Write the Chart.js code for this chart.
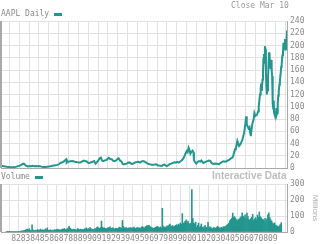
<!DOCTYPE html>
<html>
<head>
<meta charset="utf-8">
<script src="https://cdn.jsdelivr.net/npm/chart.js@4.4.1/dist/chart.umd.min.js"></script>
<style>
  body { margin: 0; background: #ffffff; width: 320px; height: 244px; overflow: hidden; position: relative; }
  canvas { position: absolute; left: 0; }
  #priceChart { top: 0; }
  #volumeChart { top: 176px; }
  .txt { position: absolute; white-space: nowrap; color: #8a8a8a; font-family: "DejaVu Sans Mono", monospace; font-size: 8px; line-height: 10px; }
  .swatch { position: absolute; height: 3px; width: 8px; background: #22968f; }
</style>
</head>
<body>
<canvas id="priceChart" width="320" height="176"></canvas>
<canvas id="volumeChart" width="320" height="68"></canvas>

<div class="txt" style="left:1px; top:9px;">AAPL Daily</div>
<div class="swatch" style="left:54px; top:13px;"></div>
<div class="txt" style="left:231px; top:1px; color:#999;">Close Mar 10</div>
<div class="txt" style="left:1px; top:172px;">Volume</div>
<div class="swatch" style="left:35px; top:176px;"></div>
<div class="txt" style="left:212px; top:171px; font-family:'Liberation Sans', Arial, sans-serif; font-weight:bold; font-size:10px; color:#bdbdbd;">Interactive Data</div>

<script>
// 색상 / 축 범위
const TEAL = '#22968f';
const GRID = '#e2e2e2';
const AXIS = '#a8a8a8';
const X_MIN = 1981.15;
const X_MAX = 2010.19;

// 연도 눈금 (x축)
const yearTicks = [1982, 1983, 1984, 1985, 1986, 1987, 1988, 1989, 1990, 1991, 1992, 1993, 1994, 1995,
    1996, 1997, 1998, 1999, 2000, 2001, 2002, 2003, 2004, 2005, 2006, 2007, 2008, 2009, 2010];

// 종가 (날짜 = 소수 연도)
const priceDates = [
    1981.15, 1981.3, 1981.45, 1981.6, 1981.75, 1981.9, 1982.05, 1982.2, 1982.35, 1982.5, 1982.65, 1982.8, 1982.95,
    1983.1, 1983.25, 1983.4, 1983.5, 1983.6, 1983.75, 1983.9, 1984.05, 1984.2, 1984.35, 1984.5, 1984.65, 1984.8, 1984.95,
    1985.1, 1985.25, 1985.4, 1985.55, 1985.7, 1985.85, 1986.0, 1986.15, 1986.3, 1986.45, 1986.6, 1986.75, 1986.9,
    1987.05, 1987.2, 1987.35, 1987.5, 1987.6, 1987.72, 1987.78, 1987.82, 1987.9, 1988.05, 1988.2, 1988.35, 1988.5,
    1988.65, 1988.8, 1988.95, 1989.1, 1989.25, 1989.4, 1989.55, 1989.7, 1989.85, 1990.0, 1990.15, 1990.3, 1990.45,
    1990.6, 1990.75, 1990.9, 1991.05, 1991.2, 1991.3, 1991.4, 1991.55, 1991.7, 1991.85, 1992.0, 1992.1, 1992.25,
    1992.4, 1992.55, 1992.7, 1992.85, 1993.0, 1993.1, 1993.25, 1993.4, 1993.5, 1993.6, 1993.75, 1993.9, 1994.05,
    1994.2, 1994.35, 1994.5, 1994.65, 1994.8, 1994.95, 1995.1, 1995.25, 1995.4, 1995.55, 1995.7, 1995.85, 1996.0,
    1996.15, 1996.3, 1996.45, 1996.6, 1996.75, 1996.9, 1997.05, 1997.2, 1997.35, 1997.5, 1997.6, 1997.75, 1997.9,
    1998.0, 1998.15, 1998.3, 1998.45, 1998.6, 1998.75, 1998.9, 1999.05, 1999.2, 1999.35, 1999.5, 1999.65, 1999.8,
    1999.9, 2000.0, 2000.1, 2000.2, 2000.28, 2000.38, 2000.48, 2000.6, 2000.7, 2000.74, 2000.85, 2000.97, 2001.1,
    2001.25, 2001.4, 2001.5, 2001.7, 2001.85, 2001.97, 2002.1, 2002.25, 2002.4, 2002.5, 2002.6, 2002.75, 2002.9,
    2003.05, 2003.2, 2003.3, 2003.45, 2003.6, 2003.75, 2003.9, 2004.05, 2004.2, 2004.35, 2004.5, 2004.6, 2004.72,
    2004.82, 2004.92, 2005.0, 2005.08, 2005.15, 2005.25, 2005.32, 2005.45, 2005.55, 2005.65, 2005.75, 2005.85,
    2005.95, 2006.04, 2006.1, 2006.18, 2006.28, 2006.38, 2006.45, 2006.52, 2006.6, 2006.7, 2006.8, 2006.88, 2006.97,
    2007.05, 2007.15, 2007.25, 2007.32, 2007.4, 2007.45, 2007.52, 2007.58, 2007.63, 2007.7, 2007.75, 2007.8, 2007.85,
    2007.9, 2007.95, 2008.0, 2008.05, 2008.1, 2008.15, 2008.2, 2008.26, 2008.32, 2008.37, 2008.42, 2008.48, 2008.53,
    2008.58, 2008.63, 2008.68, 2008.72, 2008.76, 2008.8, 2008.84, 2008.88, 2008.92, 2008.96, 2009.02, 2009.06,
    2009.12, 2009.17, 2009.2, 2009.25, 2009.3, 2009.35, 2009.42, 2009.47, 2009.53, 2009.6, 2009.65, 2009.72,
    2009.78, 2009.83, 2009.88, 2009.93, 2009.98, 2010.03, 2010.07, 2010.11, 2010.15, 2010.19
];
const priceValues = [
    3.9, 3.6, 3.3, 2.6, 2.2, 2.0, 1.7, 1.5, 1.4, 1.6, 2.2, 3.0, 3.6,
    4.6, 5.8, 7.4, 7.0, 5.2, 3.6, 2.8, 3.4, 3.1, 3.8, 3.3, 3.6, 3.3, 3.6,
    3.2, 2.6, 2.1, 2.0, 1.9, 2.5, 2.8, 3.2, 3.6, 4.4, 4.3, 5.0, 5.4,
    6.8, 8.5, 9.6, 10.5, 12.0, 13.8, 14.6, 9.0, 10.2, 10.8, 11.4, 11.8, 11.2,
    10.4, 10.0, 9.5, 9.2, 9.8, 11.2, 12.4, 11.6, 11.0, 8.8, 8.4, 9.8, 10.6,
    11.6, 7.4, 10.0, 13.2, 16.6, 17.2, 12.6, 11.6, 12.8, 13.2, 15.4, 16.8, 15.0,
    14.6, 12.0, 11.4, 13.0, 15.2, 16.0, 12.2, 10.8, 7.0, 6.0, 6.8, 7.4, 8.8,
    9.4, 7.6, 7.0, 8.4, 9.6, 10.0, 10.6, 9.2, 10.8, 11.8, 11.0, 9.6, 8.0,
    6.8, 6.2, 5.6, 5.8, 6.0, 6.4, 4.8, 4.2, 4.0, 3.6, 5.4, 5.8, 4.2,
    3.4, 5.0, 6.8, 7.4, 8.8, 9.6, 9.0, 10.4, 9.2, 11.0, 12.6, 15.4, 20.4,
    24.6, 27.8, 26.0, 33.6, 30.4, 23.8, 26.4, 28.6, 25.8, 13.0, 10.0, 7.4, 10.2,
    11.6, 10.8, 12.4, 8.4, 9.8, 10.8, 11.6, 12.4, 12.0, 9.2, 7.6, 7.0, 7.6,
    7.4, 7.0, 6.6, 8.8, 10.2, 11.4, 10.6, 11.2, 12.8, 14.0, 16.0, 16.8, 19.4,
    25.8, 31.0, 32.0, 38.6, 44.4, 40.0, 36.2, 38.6, 42.4, 45.6, 52.0, 58.8,
    71.0, 84.6, 72.2, 68.4, 64.8, 66.8, 58.6, 52.4, 64.8, 74.4, 79.2, 89.8, 85.2,
    86.0, 87.2, 92.4, 100.4, 112.6, 120.6, 130.2, 138.4, 126.0, 144.2, 154.8, 178.4, 186.2,
    172.0, 198.8, 194.0, 155.6, 133.0, 120.4, 127.2, 143.0, 172.4, 188.8, 181.4, 172.2, 162.0,
    176.6, 160.2, 150.0, 128.2, 105.0, 97.0, 110.2, 90.2, 87.0, 90.6, 86.4, 81.0,
    98.0, 88.6, 90.2, 106.8, 118.0, 124.4, 136.6, 142.4, 151.6, 165.4, 170.4, 184.0,
    188.4, 204.6, 196.0, 199.6, 210.8, 205.8, 192.0, 198.4, 204.6, 224.6
];

// 거래량 (백만 주), 1981.2 부터 0.1년 간격
const volumeStart = 1981.2;
const volumeStep = 0.1;
const volumeValues = [
    3, 2, 4, 3, 2, 2, 3, 2, 4, 3,
    2, 3, 2, 4, 3, 5, 6, 8, 7, 10,
    12, 16, 18, 12, 20, 10, 9, 45, 14, 10,
    9, 12, 10, 15, 9, 13, 18, 10, 14, 12,
    10, 20, 14, 26, 12, 10, 14, 9, 12, 10,
    12, 15, 10, 16, 18, 12, 14, 11, 16, 18,
    18, 22, 14, 16, 20, 26, 35, 24, 18, 16,
    14, 18, 16, 12, 14, 22, 16, 14, 18, 15,
    16, 14, 20, 18, 26, 16, 22, 18, 28, 20,
    18, 16, 14, 22, 20, 28, 32, 24, 22, 28,
    68, 30, 24, 26, 22, 20, 24, 28, 26, 32,
    22, 24, 26, 20, 18, 24, 22, 20, 26, 30,
    26, 24, 72, 36, 26, 24, 28, 22, 24, 26,
    24, 28, 22, 26, 30, 24, 22, 26, 28, 24,
    26, 22, 30, 34, 28, 24, 32, 36, 40, 38,
    42, 34, 30, 26, 24, 22, 26, 30, 32, 36,
    28, 26, 32, 24, 148, 36, 30, 26, 32, 38,
    36, 44, 50, 38, 34, 40, 32, 36, 42, 46,
    38, 50, 44, 56, 48, 115, 54, 58, 66, 76,
    58, 68, 52, 48, 56, 265, 85, 56, 50, 62,
    30, 42, 56, 28, 36, 50, 30, 26, 34, 40,
    30, 26, 60, 34, 24, 30, 22, 20, 28, 26,
    22, 28, 36, 30, 26, 22, 30, 24, 32, 34,
    30, 38, 44, 48, 56, 70, 78, 86, 118, 92,
    96, 86, 76, 70, 78, 82, 90, 96, 120, 100,
    90, 108, 84, 118, 96, 78, 74, 84, 92, 110,
    72, 82, 90, 78, 106, 92, 125, 96, 88, 80,
    78, 72, 86, 66, 82, 108, 120, 90, 76, 68,
    56, 50, 58, 44, 40, 36, 32, 38, 46, 58
];

const priceTicks = [0, 20, 40, 60, 80, 100, 120, 140, 160, 180, 200, 220, 240];
const volumeTicks = [0, 100, 200, 300];

const TICK_FONT = { family: 'DejaVu Sans Mono', size: 8 };

// 왼쪽 테두리
const frameLine = {
    id: 'frameLine',
    afterDraw(chart) {
        const { ctx, chartArea } = chart;
        ctx.save();
        ctx.strokeStyle = AXIS;
        ctx.lineWidth = 2;
        ctx.beginPath();
        ctx.moveTo(chartArea.left, chartArea.top);
        ctx.lineTo(chartArea.left, chartArea.bottom);
        ctx.stroke();
        ctx.restore();
    }
};

function yearAxis(showLabels) {
    return {
        type: 'linear',
        min: X_MIN,
        max: X_MAX,
        afterBuildTicks: axis => { axis.ticks = yearTicks.map(v => ({ value: v })); },
        afterFit: axis => { axis.height = showLabels ? 12 : 0; },
        grid: { color: GRID, drawTicks: false },
        border: { display: true, color: AXIS },
        ticks: {
            display: showLabels,
            autoSkip: false,
            maxRotation: 0,
            minRotation: 0,
            padding: 2,
            labelOffset: 2,
            color: '#8a8a8a',
            font: TICK_FONT,
            callback: v => (v >= 2010 ? '' : String(v % 100).padStart(2, '0'))
        }
    };
}

function valueAxis(ticks, title) {
    return {
        position: 'right',
        min: ticks[0],
        max: ticks[ticks.length - 1],
        afterBuildTicks: axis => { axis.ticks = ticks.map(v => ({ value: v })); },
        afterFit: axis => { axis.width = 33; },
        grid: { color: GRID, drawTicks: false },
        border: { display: true, color: AXIS },
        ticks: { color: '#8a8a8a', font: TICK_FONT, padding: 3, autoSkip: false },
        title: title
            ? { display: true, text: title, color: '#b0b0b0', font: { family: 'Liberation Sans', size: 8 }, padding: 0 }
            : { display: false }
    };
}

// 가격 차트
new Chart(document.getElementById('priceChart'), {
    type: 'line',
    data: {
        datasets: [{
            data: priceDates.map((d, i) => ({ x: d, y: priceValues[i] })),
            borderColor: TEAL,
            borderWidth: 2,
            pointRadius: 0,
            tension: 0
        }]
    },
    options: {
        responsive: false,
        animation: false,
        layout: { padding: { left: 1, right: 0, top: 21, bottom: 6.5 } },
        plugins: { legend: { display: false }, tooltip: { enabled: false } },
        scales: {
            x: yearAxis(false),
            y: valueAxis(priceTicks, null)
        }
    },
    plugins: [frameLine]
});

// 거래량 차트
new Chart(document.getElementById('volumeChart'), {
    type: 'bar',
    data: {
        datasets: [{
            data: volumeValues.map((v, i) => ({ x: volumeStart + i * volumeStep, y: v })),
            backgroundColor: TEAL,
            borderWidth: 0,
            barPercentage: 1,
            categoryPercentage: 1
        }]
    },
    options: {
        responsive: false,
        animation: false,
        layout: { padding: { left: 1, right: 0, top: 8, bottom: 0 } },
        plugins: { legend: { display: false }, tooltip: { enabled: false } },
        scales: {
            x: yearAxis(true),
            y: valueAxis(volumeTicks, 'Millions')
        }
    },
    plugins: [frameLine]
});
</script>
</body>
</html>
